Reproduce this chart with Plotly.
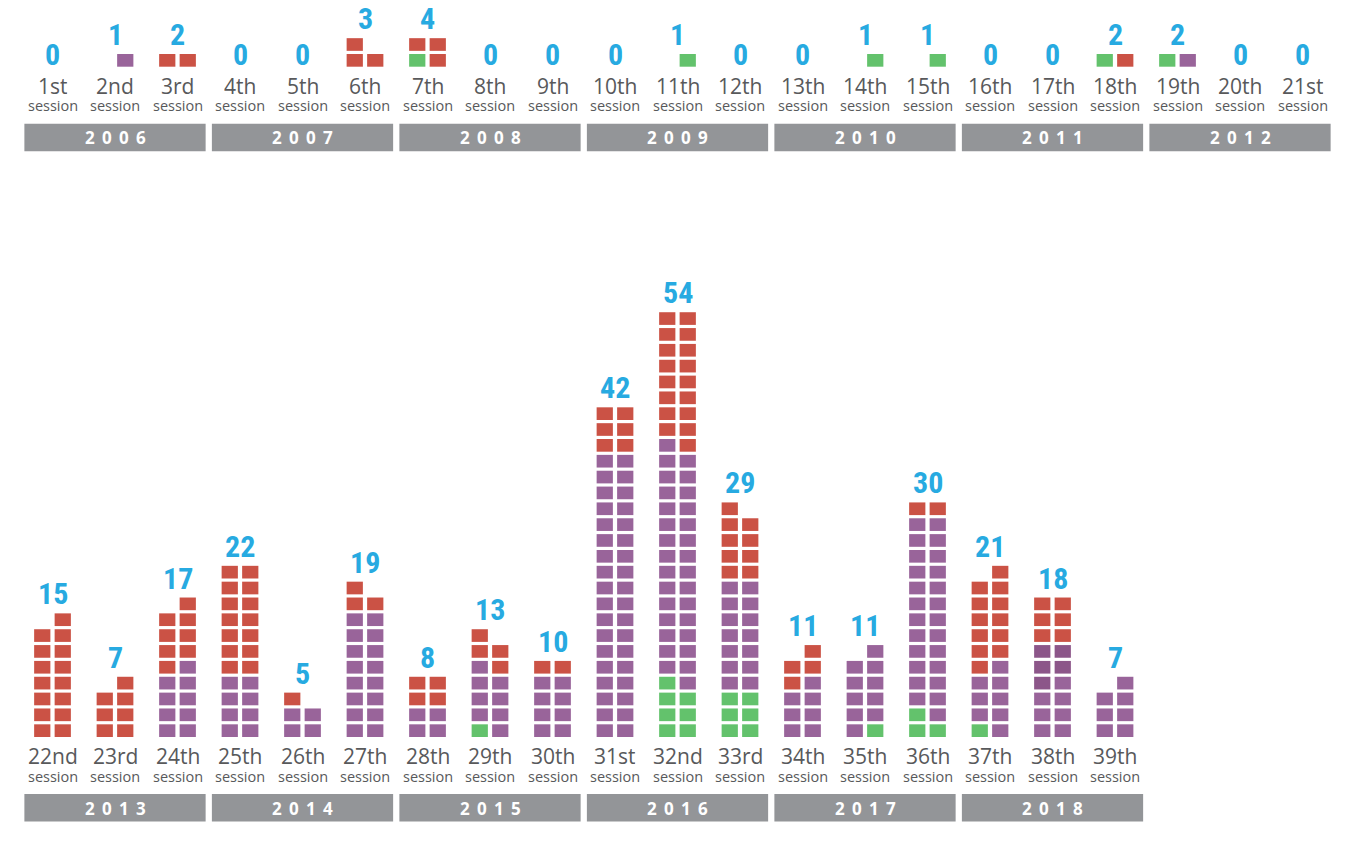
import plotly.graph_objects as go

# ---------------- data ----------------
top_sessions = ["1st", "2nd", "3rd", "4th", "5th", "6th", "7th", "8th", "9th", "10th", "11th",
                "12th", "13th", "14th", "15th", "16th", "17th", "18th", "19th", "20th", "21st"]
top_years = ["2006", "2007", "2008", "2009", "2010", "2011", "2012"]
top_totals = [0, 1, 2, 0, 0, 3, 4, 0, 0, 0, 1, 0, 0, 1, 1, 0, 0, 2, 2, 0, 0]
# left column / right column counts per category
top_green_L = [0, 0, 0, 0, 0, 0, 1, 0, 0, 0, 0, 0, 0, 0, 0, 0, 0, 1, 1, 0, 0]
top_purple_L = [0] * 21
top_dpurple_L = [0] * 21
top_red_L = [0, 0, 1, 0, 0, 2, 1, 0, 0, 0, 0, 0, 0, 0, 0, 0, 0, 0, 0, 0, 0]
top_green_R = [0, 0, 0, 0, 0, 0, 0, 0, 0, 0, 1, 0, 0, 1, 1, 0, 0, 0, 0, 0, 0]
top_purple_R = [0, 1, 0, 0, 0, 0, 0, 0, 0, 0, 0, 0, 0, 0, 0, 0, 0, 0, 1, 0, 0]
top_dpurple_R = [0] * 21
top_red_R = [0, 0, 1, 0, 0, 1, 2, 0, 0, 0, 0, 0, 0, 0, 0, 0, 0, 1, 0, 0, 0]

bot_sessions = ["22nd", "23rd", "24th", "25th", "26th", "27th", "28th", "29th", "30th",
                "31st", "32nd", "33rd", "34th", "35th", "36th", "37th", "38th", "39th"]
bot_years = ["2013", "2014", "2015", "2016", "2017", "2018"]
bot_totals = [15, 7, 17, 22, 5, 19, 8, 13, 10, 42, 54, 29, 11, 11, 30, 21, 18, 7]
bot_green_L = [0, 0, 0, 0, 0, 0, 0, 1, 0, 0, 4, 3, 0, 0, 2, 1, 0, 0]
bot_purple_L = [0, 0, 4, 4, 2, 8, 2, 4, 4, 18, 15, 7, 3, 5, 12, 3, 3, 3]
bot_dpurple_L = [0, 0, 0, 0, 0, 0, 0, 0, 0, 0, 0, 0, 0, 0, 0, 0, 3, 0]
bot_red_L = [7, 3, 4, 7, 1, 2, 2, 2, 1, 3, 8, 5, 2, 0, 1, 6, 3, 0]
bot_green_R = [0, 0, 0, 0, 0, 0, 0, 0, 0, 0, 3, 3, 0, 1, 1, 0, 0, 0]
bot_purple_R = [0, 0, 5, 4, 2, 8, 2, 4, 4, 18, 15, 7, 4, 5, 13, 5, 4, 4]
bot_dpurple_R = [0, 0, 0, 0, 0, 0, 0, 0, 0, 0, 0, 0, 0, 0, 0, 0, 2, 0]
bot_red_R = [8, 4, 4, 7, 0, 1, 2, 2, 1, 3, 9, 4, 2, 0, 1, 6, 3, 0]

# ---------------- style ----------------
W, H = 1367, 862
SLOT_PX = 62.5          # horizontal pitch of a session
FIRST_PX = 52.5         # centre of first session
ROW_PX = 15.85          # vertical pitch of a cell
TOP_BASE_PX = 66.7      # baseline (bottom of cells) of top panel
BOT_BASE_PX = 737.0     # baseline of bottom panel
COL_OFF = 0.164         # column offset in slot units
CELL_W = 0.26
CELL_H = 0.80
COLORS = {"green": "#63C26C", "purple": "#99649A", "dpurple": "#8C5689", "red": "#CB5245"}
BLUE = "#27AAE1"
GRAY = "#939598"
TXT = "#58595B"
NUM_FONT = "Liberation Sans Narrow, Roboto Condensed, DejaVu Sans Condensed, Arial Narrow, sans-serif"
LBL_FONT = "Open Sans, Noto Sans, sans-serif"

fig = go.Figure()


def add_panel(yref, sessions, years, totals, cols_L, cols_R):
    n = len(sessions)
    for key in ["green", "purple", "dpurple", "red"]:
        xs, bases = [], []
        for i in range(n):
            for cols, off in ((cols_L, -COL_OFF), (cols_R, COL_OFF)):
                start = 0
                for k in ["green", "purple", "dpurple", "red"]:
                    cnt = cols[k][i]
                    if k == key:
                        for r in range(start, start + cnt):
                            xs.append(i + off)
                            bases.append(r)
                    start += cnt
        if xs:
            fig.add_trace(go.Bar(x=xs, y=[CELL_H] * len(xs), base=bases, width=CELL_W,
                                 marker=dict(color=COLORS[key], line=dict(width=0)),
                                 yaxis=yref, hoverinfo="skip", showlegend=False))
    ax = "y" if yref == "y" else "y2"
    for i in range(n):
        hL = sum(cols_L[k][i] for k in cols_L)
        hR = sum(cols_R[k][i] for k in cols_R)
        h = max(hL, hR)
        if h == 0:
            yv, ysh = 0, -7
        else:
            yv, ysh = h - 1 + CELL_H, 0
        fig.add_annotation(x=i, y=yv, xref="x", yref=ax, text=f"<b>{totals[i]}</b>",
                           showarrow=False, yanchor="bottom", yshift=ysh,
                           font=dict(family=NUM_FONT, size=30, color=BLUE))
        fig.add_annotation(x=i, y=0, xref="x", yref=ax, text=sessions[i], showarrow=False,
                           yanchor="middle", yshift=-19, height=20, valign="middle",
                           font=dict(family=LBL_FONT, size=21, color=TXT))
        fig.add_annotation(x=i, y=0, xref="x", yref=ax, text="session", showarrow=False,
                           yanchor="middle", yshift=-38.5, height=14, valign="middle",
                           font=dict(family=LBL_FONT, size=14.5, color=TXT))
    for j, yr in enumerate(years):
        s = 3 * j
        fig.add_shape(type="rect", xref="x", yref=ax, x0=s - 0.45, x1=s + 2.45,
                      ysizemode="pixel", yanchor=0, y0=-57, y1=-84.5,
                      fillcolor=GRAY, line=dict(width=0), layer="below")
        fig.add_annotation(x=s + 1, y=0, xref="x", yref=ax,
                           text="<b>" + " \u2009".join(yr) + "</b>", showarrow=False,
                           yanchor="middle", yshift=-71,
                           font=dict(family=LBL_FONT, size=17, color="white"))


add_panel("y", top_sessions, top_years, top_totals,
          {"green": top_green_L, "purple": top_purple_L, "dpurple": top_dpurple_L, "red": top_red_L},
          {"green": top_green_R, "purple": top_purple_R, "dpurple": top_dpurple_R, "red": top_red_R})
add_panel("y2", bot_sessions, bot_years, bot_totals,
          {"green": bot_green_L, "purple": bot_purple_L, "dpurple": bot_dpurple_L, "red": bot_red_L},
          {"green": bot_green_R, "purple": bot_purple_R, "dpurple": bot_dpurple_R, "red": bot_red_R})

x_lo = -FIRST_PX / SLOT_PX
x_hi = (W - FIRST_PX) / SLOT_PX
fig.update_layout(
    width=W, height=H, margin=dict(l=0, r=0, t=0, b=0),
    paper_bgcolor="white", plot_bgcolor="white", barmode="overlay",
    xaxis=dict(range=[x_lo, x_hi], visible=False, fixedrange=True),
    yaxis=dict(range=[(TOP_BASE_PX - H) / ROW_PX, TOP_BASE_PX / ROW_PX], visible=False,
               domain=[0, 1], fixedrange=True),
    yaxis2=dict(range=[(BOT_BASE_PX - H) / ROW_PX, BOT_BASE_PX / ROW_PX], visible=False,
                overlaying="y", fixedrange=True),
)
fig.write_html("out.html", config={"displayModeBar": False},
               post_script="document.body.style.margin='0';document.body.style.overflow='hidden';")
